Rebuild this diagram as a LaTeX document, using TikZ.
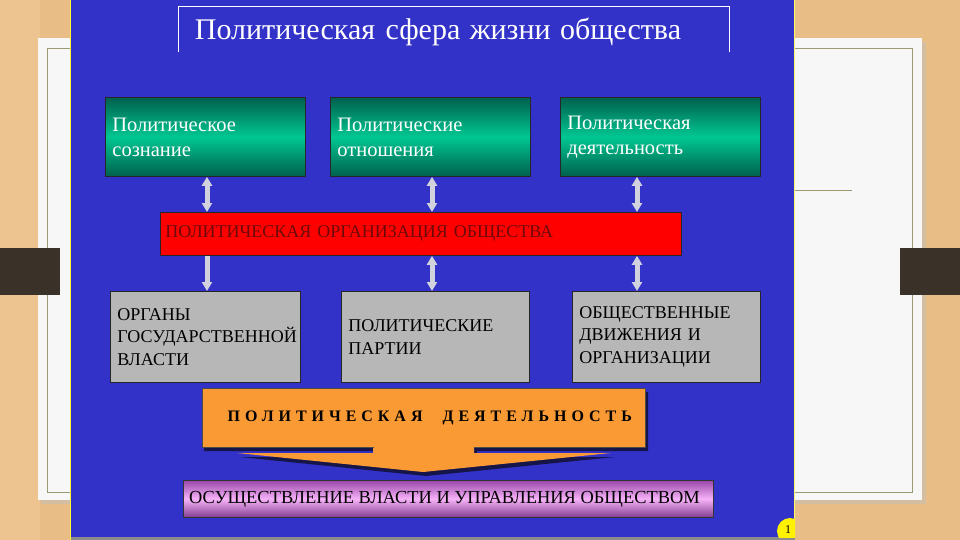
\documentclass[tikz,border=0pt]{standalone}
\usepackage{fontspec}
\setmainfont{Liberation Serif}
\usetikzlibrary{arrows.meta}
\definecolor{wood}{HTML}{E9BD86}
\definecolor{woodL}{HTML}{F1CC9A}
\definecolor{slideline}{HTML}{9C9A72}
\definecolor{barbrown}{HTML}{3A3129}
\definecolor{panelblue}{HTML}{3232C8}
\definecolor{grnD}{HTML}{00604E}
\definecolor{grnL}{HTML}{00C792}
\definecolor{boxgray}{HTML}{B7B7B7}
\definecolor{orgred}{HTML}{FF0000}
\definecolor{darkred}{HTML}{6E0A0A}
\definecolor{actorange}{HTML}{FA9A35}
\definecolor{shadowblue}{HTML}{15154A}
\definecolor{purD}{HTML}{9A48AA}
\definecolor{purL}{HTML}{F6B2F8}
\definecolor{arrowgray}{HTML}{D2D2DE}
\begin{document}
\begin{tikzpicture}[x=1pt,y=-1pt,
  greenbox/.style={draw=black!85, line width=0.8pt, top color=grnD, bottom color=grnD, middle color=grnL,
    minimum width=200pt, minimum height=79pt, text width=186pt, inner sep=7pt, align=left,
    font=\fontsize{20.5}{25}\selectfont, text=white, anchor=north west},
  graybox/.style={draw=black!85, line width=0.8pt, fill=boxgray,
    minimum height=91pt, inner sep=7pt, align=left,
    font=\fontsize{18}{22.5}\selectfont, text=black, anchor=north west},
  dblarrow/.style={line width=5pt, color=arrowgray, {Triangle[width=10pt,length=9pt]}-{Triangle[width=10pt,length=9pt]}},
  downarrow/.style={line width=5pt, color=arrowgray, -{Triangle[width=10pt,length=9pt]}}
]
\useasboundingbox (0,0) rectangle (960,540);
% wooden background
\fill[wood] (0,0) rectangle (960,540);
\fill[woodL,opacity=0.5] (0,0) rectangle (40,540);
% slide
\fill[black!25,opacity=0.5] (41,42) rectangle (926,504);
\fill[white!97!black] (38,38) rectangle (922,500);
\draw[slideline, line width=0.8pt] (47,48) rectangle (912,492);
\draw[slideline, line width=0.6pt] (795,190) -- (852,190);
% dark bars
\fill[barbrown] (0,248) rectangle (60,295);
\fill[barbrown] (900,248) rectangle (960,295);
% blue panel
\fill[panelblue] (70,0) rectangle (795,537);
\fill[black!45] (70,537) rectangle (795,540);
\draw[yellow!80!white, line width=1.2pt] (70.6,0) -- (70.6,540);
\draw[yellow!60!white, line width=0.6pt] (794.7,0) -- (794.7,537);
% title
\draw[white, line width=0.8pt] (178,52) -- (178,6) -- (729,6) -- (729,52);
\node[text=white, font=\fontsize{30}{32}\selectfont] (title) at (438,32) {Политическая\hspace{3pt} сфера\hspace{2pt} жизни\hspace{2pt} общества};
% green boxes
\node[greenbox] (g1) at (105,97) {Политическое\\сознание};
\node[greenbox] (g2) at (330,97) {Политические\\отношения};
\node[greenbox] (g3) at (560,97) {Политическая\\деятельность};
% red bar
\node[draw=black!85, line width=0.8pt, fill=orgred, anchor=north west, minimum width=521pt, minimum height=43pt,
  text width=511pt, inner sep=5pt, align=left, text=darkred, font=\fontsize{18}{20}\selectfont]
  (org) at (160,212) {ПОЛИТИЧЕСКАЯ ОРГАНИЗАЦИЯ ОБЩЕСТВА};
% gray boxes
\node[graybox, minimum width=190pt, text width=176pt] (o1) at (110,291) {ОРГАНЫ\\ГОСУДАРСТВЕННОЙ\\ВЛАСТИ};
\node[graybox, minimum width=188pt, text width=174pt] (o2) at (341,291) {ПОЛИТИЧЕСКИЕ\\ПАРТИИ};
\node[graybox, minimum width=188pt, text width=174pt] (o3) at (572,291) {ОБЩЕСТВЕННЫЕ\\ДВИЖЕНИЯ И\\ОРГАНИЗАЦИИ};
% arrow columns
\coordinate (ax1) at (207,0);
\coordinate (ax2) at (432,0);
\coordinate (ax3) at (637,0);
\draw[dblarrow] (g1.south -| ax1) -- (org.north -| ax1);
\draw[dblarrow] (g2.south -| ax2) -- (org.north -| ax2);
\draw[dblarrow] (g3.south -| ax3) -- (org.north -| ax3);
\draw[downarrow] (org.south -| ax1) -- (o1.north -| ax1);
\draw[dblarrow] (org.south -| ax2) -- (o2.north -| ax2);
\draw[dblarrow] (org.south -| ax3) -- (o3.north -| ax3);
% orange activity arrow
\fill[shadowblue] (204,392) -- (648,392) -- (648,451) -- (477,451) -- (477,457) -- (615,457) -- (426,476) -- (240,457) -- (376,457) -- (376,451) -- (204,451) -- cycle;
\fill[actorange] (373,440) -- (474,440) -- (474,453) -- (611,453) -- (423,472) -- (237,453) -- (373,453) -- cycle;
\node[draw=black!70, line width=0.6pt, fill=actorange, anchor=north west, minimum width=443pt, minimum height=59pt,
  inner sep=0pt, font=\bfseries\fontsize{16}{18}\selectfont, text=black]
  (act) at (202,388) {\hspace*{12pt}\addfontfeature{LetterSpace=31}ПОЛИТИЧЕСКАЯ\hspace{20pt}ДЕЯТЕЛЬНОСТЬ};
\fill[actorange] (373.5,446) rectangle (473.5,454);
% purple result bar
\node[draw=black!80, line width=0.8pt, top color=purD, bottom color=purD!85!black, middle color=purL,
  anchor=north west, minimum width=530pt, minimum height=37pt, inner sep=0pt,
  font=\fontsize{18.4}{20}\selectfont, text=black]
  (impl) at (183,480) {ОСУЩЕСТВЛЕНИЕ ВЛАСТИ И УПРАВЛЕНИЯ ОБЩЕСТВОМ\hspace*{8pt}};
% page marker
\begin{scope}
\clip (70,0) rectangle (795,537);
\fill[yellow] (790,531) circle (13);
\node[font=\fontsize{12}{12}\selectfont] (pg) at (788,530) {1};
\end{scope}
\end{tikzpicture}
\end{document}
